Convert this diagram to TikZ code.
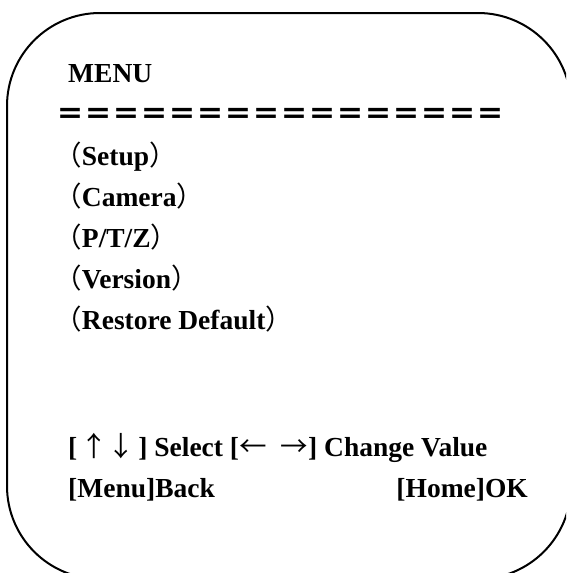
\documentclass[tikz,border=0pt]{standalone}
\usepackage{fontspec}
\setmainfont{Liberation Serif}
\newfontfamily\cjk[RawFeature=+halt]{Noto Sans CJK SC}
\newfontfamily\cjkw{Noto Sans CJK SC}
\newcommand{\lp}{{\mdseries\cjk （}}
\newcommand{\rp}{{\mdseries\cjk ）}}
\newcommand{\ar}[1]{{\mdseries\cjkw #1}}

\begin{document}
\begin{tikzpicture}[x=1pt,y=-1pt]
    \def\lx{68}
    \def\dy{41}
    \def\by{165}

    \tikzstyle{frame}=[line width=2pt,draw=black,rounded corners=93pt]
    \tikzstyle{item}=[anchor=base west,inner sep=0pt,font=\fontsize{27.5}{33}\selectfont\bfseries]
    \tikzstyle{bar}=[anchor=west,inner sep=0pt,font=\fontsize{28}{33}\selectfont\cjkw\bfseries]

    \useasboundingbox (0,0) rectangle (566,573);
    \begin{scope}
        \clip (0,0) rectangle (566,573);
        \draw[frame] (7,13) rectangle (571,579);
    \end{scope}

    \node[item] (title) at (\lx,82) {MENU};
    \node[bar] (rule) at (56,116) {＝＝＝＝＝＝＝＝＝＝＝＝＝＝＝＝};

    \node[item] (m1) at (\lx,\by+0*\dy) {\lp Setup\rp};
    \node[item] (m2) at (\lx,\by+1*\dy) {\lp Camera\rp};
    \node[item] (m3) at (\lx,\by+2*\dy) {\lp P/T/Z\rp};
    \node[item] (m4) at (\lx,\by+3*\dy) {\lp Version\rp};
    \node[item] (m5) at (\lx,\by+4*\dy) {\lp Restore Default\rp};

    \node[item] (keys) at (\lx,456) {[\hspace{3pt}\ar{↑↓}\hspace{3pt}] Select [\ar{←}\hspace{14pt}\ar{→}] Change Value};
    \node[item] (back) at (\lx,497) {[Menu]Back};
    \node[item,anchor=base east] (ok) at (528,497) {[Home]OK};
\end{tikzpicture}
\end{document}
